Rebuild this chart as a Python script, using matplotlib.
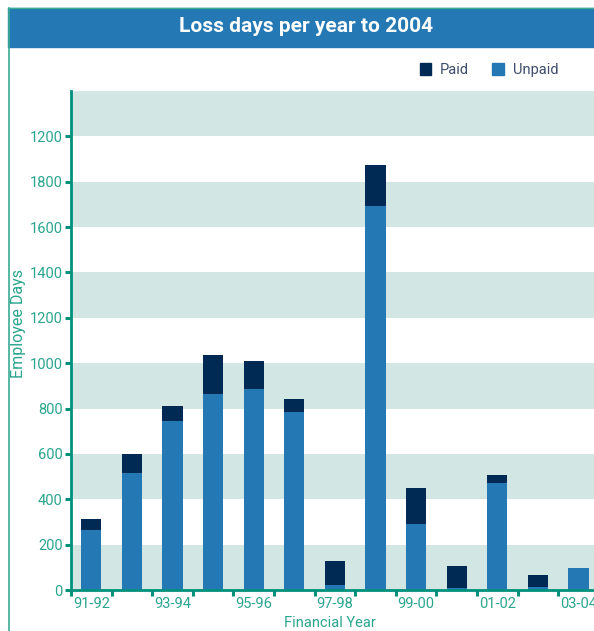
"""Loss days per year, stacked paid / unpaid bars."""

import matplotlib

matplotlib.use("Agg")

import matplotlib.pyplot as plt
from matplotlib.lines import Line2D
from matplotlib.patches import Patch, Rectangle

years = ["91-92", "92-93", "93-94", "94-95", "95-96", "96-97", "97-98",
         "98-99", "99-00", "00-01", "01-02", "02-03", "03-04"]
unpaid = [265, 515, 745, 863, 885, 785, 20, 1692, 290, 8, 471, 12, 95]
paid = [50, 85, 65, 172, 124, 56, 106, 180, 159, 96, 36, 56, 0]
ytick_values = [0, 200, 400, 600, 800, 1000, 1200, 1400, 1600, 1800, 2000]
ytick_labels = ["0", "200", "400", "600", "800", "1000", "1200", "1400",
                "1600", "1800", "1200"]

TEAL = "#00917c"
LABEL = "#2aa58e"
BAND = "#d2e7e3"
UNPAID_C = "#2478b4"
PAID_C = "#002a54"

plt.rcParams["font.family"] = ["Roboto", "DejaVu Sans"]

W, H = 594, 631
fig = plt.figure(figsize=(W / 100, H / 100), dpi=100)

# header bar and frame lines
fig.patches.append(Rectangle((8 / W, 1 - 47 / H), 1, 39 / H,
                             transform=fig.transFigure, color="#2478b4", zorder=0))
fig.lines.append(Line2D([8.5 / W, 8.5 / W], [0, 1 - 8 / H], transform=fig.transFigure,
                        color="#3aaa94", linewidth=1.2))
fig.lines.append(Line2D([8 / W, 1], [1 - 8 / H, 1 - 8 / H], transform=fig.transFigure,
                        color="#3aaa94", linewidth=1.0))
fig.text(306 / W, 1 - 27 / H, "Loss days per year to 2004", color="white",
         fontsize=15, fontweight="bold", ha="center", va="center")

left, bottom, top = 71 / W, 41 / H, 1 - 91 / H
n_slots = 13.5
ax = fig.add_axes([left, bottom, n_slots * 40.6 / W, top - bottom])

x = list(range(len(years)))
ax.bar(x, unpaid, width=0.5, color=UNPAID_C, zorder=2, label="Unpaid")
ax.bar(x, paid, width=0.5, bottom=unpaid, color=PAID_C, zorder=2, label="Paid")

for lo in range(0, 2200, 400):
    ax.axhspan(lo, lo + 200, color=BAND, linewidth=0, zorder=0)

ax.set_xlim(-0.5, -0.5 + n_slots)
ax.set_ylim(0, 2200)

for side in ("top", "right"):
    ax.spines[side].set_visible(False)
for side in ("left", "bottom"):
    ax.spines[side].set_color(TEAL)
    ax.spines[side].set_linewidth(2)
    ax.spines[side].set_zorder(3)

ax.set_yticks(ytick_values)
ax.set_yticklabels(ytick_labels)
ax.tick_params(axis="y", colors=TEAL, labelcolor=LABEL, length=4, width=2.2,
               labelsize=10.5, pad=2)

ax.set_xticks([i - 0.5 for i in range(len(years) + 1)])
ax.set_xticklabels([])
ax.set_xticks(x[::2], minor=True)
ax.set_xticklabels(years[::2], minor=True)
ax.tick_params(axis="x", which="major", colors=TEAL, length=4, width=2.2)
ax.tick_params(axis="x", which="minor", length=0, labelcolor=LABEL,
               labelsize=10.5, pad=5)

fig.text(19 / W, 1 - 324 / H, "Employee Days", color=LABEL, fontsize=11.5,
         rotation=90, ha="center", va="center")
fig.text(330 / W, 1 - 623 / H, "Financial Year", color=LABEL, fontsize=10.5,
         ha="center", va="center")

handles = [Patch(color=PAID_C, label="Paid"), Patch(color=UNPAID_C, label="Unpaid")]
fig.legend(handles=handles, loc="center", bbox_to_anchor=(489 / W, 1 - 70 / H),
           ncol=2, frameon=False, fontsize=10.5, labelcolor="#3d4d6b",
           handlelength=0.8, handleheight=0.8, handletextpad=0.6, columnspacing=1.6)

fig.savefig("out.png", dpi=100)
plt.close(fig)
